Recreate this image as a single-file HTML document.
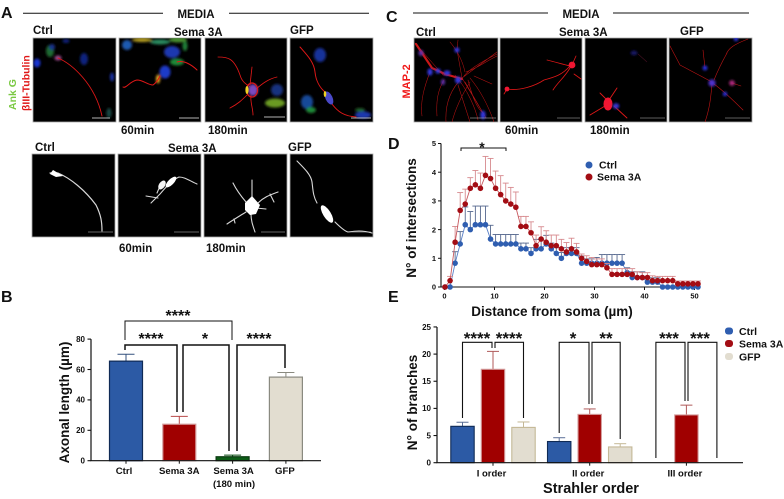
<!DOCTYPE html>
<html lang="en">
<head>
<meta charset="utf-8">
<title>Sema 3A neuron figure</title>
<style>
html,body{margin:0;padding:0;background:#fff;width:784px;height:499px;overflow:hidden}
svg{display:block;filter:blur(.25px)}
text{font-family:"Liberation Sans",sans-serif;font-weight:bold;fill:#111}
.red{fill:none;stroke:#e01818;stroke-linecap:round;stroke-linejoin:round}
.wht{fill:none;stroke:#d8d8d8;stroke-linecap:round;stroke-linejoin:round}
.frame{fill:#000;stroke:#aaa;stroke-width:.8}
</style>
</head>
<body>
<svg id="fig" xmlns="http://www.w3.org/2000/svg" width="784" height="499" viewBox="0 0 784 499">
<defs>
<filter id="s" x="-40%" y="-40%" width="180%" height="180%"><feGaussianBlur stdDeviation="1.4"/></filter>
<filter id="t" x="-10%" y="-10%" width="120%" height="120%"><feGaussianBlur stdDeviation=".3"/></filter>
<clipPath id="a1"><rect x="33" y="38" width="83" height="84"/></clipPath>
<clipPath id="a2"><rect x="119" y="38" width="82" height="84"/></clipPath>
<clipPath id="a3"><rect x="205" y="38" width="82" height="84"/></clipPath>
<clipPath id="a4"><rect x="290" y="38" width="83" height="84"/></clipPath>
<clipPath id="c1"><rect x="414" y="38" width="84" height="84"/></clipPath>
<clipPath id="c2"><rect x="500" y="38" width="82" height="84"/></clipPath>
<clipPath id="c3"><rect x="585" y="38" width="82" height="84"/></clipPath>
<clipPath id="c4"><rect x="669" y="38" width="83" height="84"/></clipPath>
</defs>

<!-- panel letters -->
<text x="1" y="18" font-size="16">A</text>
<text x="1" y="302" font-size="16">B</text>
<text x="386" y="22" font-size="16">C</text>
<text x="388" y="149" font-size="16">D</text>
<text x="388" y="302" font-size="16">E</text>

<!-- media headers -->
<g>
<line x1="23" y1="13.3" x2="163" y2="13.3" stroke="#111" stroke-width="1"/>
<line x1="229" y1="13.3" x2="369" y2="13.3" stroke="#111" stroke-width="1"/>
<text x="196" y="18" font-size="11.5" text-anchor="middle">MEDIA</text>
</g>
<g>
<line x1="413" y1="13" x2="548" y2="13" stroke="#111" stroke-width="1"/>
<line x1="613" y1="13" x2="749" y2="13" stroke="#111" stroke-width="1"/>
<text x="581" y="18" font-size="11.5" text-anchor="middle">MEDIA</text>
</g>

<!-- condition labels -->
<g font-size="11.5">
<text x="33" y="34">Ctrl</text><text x="174" y="36">Sema 3A</text><text x="290" y="34">GFP</text>
<text x="121" y="134">60min</text><text x="208" y="134">180min</text>
</g>
<g font-size="11.5">
<text x="35" y="151">Ctrl</text><text x="168" y="152">Sema 3A</text><text x="288" y="151">GFP</text>
<text x="119" y="252">60min</text><text x="206" y="252">180min</text>
</g>
<g font-size="11.5">
<text x="416" y="36">Ctrl</text><text x="559" y="36">Sema 3A</text><text x="680" y="35">GFP</text>
<text x="505" y="134">60min</text><text x="590" y="134">180min</text>
</g>
<text transform="translate(16 110) rotate(-90)" font-size="10.5" style="fill:#7ac943">Ank G</text>
<text transform="translate(29.5 111) rotate(-90)" font-size="10.5" style="fill:#e01818">βIII-Tubulin</text>
<text transform="translate(410 98.5) rotate(-90)" font-size="11" style="fill:#f01818">MAP-2</text>

<!-- panel A top micrographs -->
<g filter="url(#t)">
<rect class="frame" x="33" y="38" width="83" height="84"/>
<g clip-path="url(#a1)">
<g filter="url(#s)"><ellipse cx="37" cy="63" rx="3.5" ry="4.5" fill="#1535d0"/><ellipse cx="84" cy="59" rx="4" ry="6" fill="#10247e"/><ellipse cx="66" cy="41" rx="3.5" ry="2" fill="#10247e"/><ellipse cx="112" cy="77" rx="2" ry="4.5" fill="#1530a8"/><ellipse cx="50" cy="51" rx="4" ry="6" fill="#1f6a30"/><ellipse cx="52" cy="47" rx="3" ry="3" fill="#18308a"/><ellipse cx="109" cy="113" rx="2.5" ry="5" fill="#174a44"/><ellipse cx="58" cy="58" rx="3.5" ry="2.5" fill="#a04a90"/></g>
<path class="red" stroke-width=".9" d="M58 58C72 64 95 84 102 116"/>
<line x1="92" y1="118" x2="110" y2="118" stroke="#eee" stroke-width=".7"/>
</g></g>
<g filter="url(#t)">
<rect class="frame" x="119" y="38" width="82" height="84"/>
<g clip-path="url(#a2)">
<g filter="url(#s)"><ellipse cx="127" cy="45" rx="5" ry="5" fill="#1a5ab0"/><ellipse cx="142" cy="40" rx="10" ry="2" fill="#b8a020"/><ellipse cx="160" cy="42" rx="10" ry="2.5" fill="#2a8a60"/><ellipse cx="178" cy="40" rx="9" ry="2.5" fill="#4a9030"/><ellipse cx="172" cy="52" rx="8" ry="6" fill="#1a38b0"/><ellipse cx="177" cy="62" rx="7" ry="3.5" fill="#1f8a38"/><ellipse cx="185" cy="46" rx="2.5" ry="5" fill="#1f8038"/><ellipse cx="165" cy="72" rx="5.5" ry="6.5" fill="#1a3ac8"/><ellipse cx="158" cy="79" rx="2" ry="4.5" fill="#f0b020"/></g>
<path class="red" stroke-width="1" d="M123 87C126 89 130 81 137 80C143 80 148 85 153 85C156 83 158 80 160 76M177 62C184 60 192 65 197 70"/>
<line x1="179" y1="118" x2="199" y2="118" stroke="#eee" stroke-width=".7"/>
</g></g>
<g filter="url(#t)">
<rect class="frame" x="205" y="38" width="82" height="84"/>
<g clip-path="url(#a3)">
<path class="red" stroke-width=".85" d="M218 57C228 57 234 58 240 75C242 82 246 84 250 87M252 67L250 85M277 77C268 79 262 84 256 89M230 108C238 104 242 100 248 94M253 115C253 108 250 102 251 95"/>
<g filter="url(#s)"><ellipse cx="277" cy="90" rx="6" ry="6" fill="#15307e"/><ellipse cx="275" cy="103" rx="10" ry="4.5" fill="#6a9a20"/><ellipse cx="253" cy="90" rx="5" ry="6" fill="#7a48c0"/></g>
<ellipse cx="252" cy="90" rx="5.5" ry="7" fill="none" stroke="#e01818" stroke-width="1.2"/>
<ellipse cx="247" cy="90" rx="1.6" ry="4" fill="#f0d020"/>
<line x1="264" y1="117" x2="285" y2="117" stroke="#eee" stroke-width=".7"/>
</g></g>
<g filter="url(#t)">
<rect class="frame" x="290" y="38" width="83" height="84"/>
<g clip-path="url(#a4)">
<g filter="url(#s)"><ellipse cx="320" cy="55" rx="6" ry="7" fill="#15309a"/><ellipse cx="307" cy="102" rx="6" ry="7" fill="#154a98"/><ellipse cx="311" cy="110" rx="5" ry="3" fill="#1c8a38"/><ellipse cx="363" cy="115" rx="8" ry="3.5" fill="#1a38b0"/><ellipse cx="360" cy="110" rx="5" ry="1.8" fill="#236a2a"/></g>
<path class="red" stroke-width="1" d="M300 47C307 55 314 62 315 72C316 82 320 88 326 93M332 104C338 112 344 116 356 117"/>
<ellipse cx="329" cy="98" rx="3.5" ry="7" transform="rotate(-25 329 98)" fill="#4848c8"/>
<ellipse cx="325" cy="94" rx="1.3" ry="3" fill="#f0d020"/>
<line x1="351" y1="118" x2="371" y2="118" stroke="#eee" stroke-width=".7"/>
</g></g>

<!-- panel A skeletons -->
<g filter="url(#t)">
<rect class="frame" x="32" y="154" width="83" height="83"/>
<path class="wht" stroke-width="1.2" d="M50 173L58 173C70 178 85 190 96 205C101 215 102 222 102 231"/>
<path d="M53 170L63 176L56 177L50 174Z" fill="#fff"/>
<line x1="88" y1="232" x2="113" y2="232" stroke="#ccc" stroke-width=".6"/>
</g>
<g filter="url(#t)">
<rect class="frame" x="118" y="154" width="83" height="83"/>
<path class="wht" stroke-width="1.1" d="M197 184C190 181 185 177 179 177C172 180 166 187 160 194L151 203M146 196L158 198M157 193L160 186"/>
<ellipse cx="171" cy="182" rx="2.8" ry="7" transform="rotate(45 171 182)" fill="#fff"/>
<ellipse cx="162" cy="185" rx="3" ry="5" transform="rotate(35 162 185)" fill="#f4f4f4"/>
<line x1="174" y1="232" x2="199" y2="232" stroke="#ccc" stroke-width=".6"/>
</g>
<g filter="url(#t)">
<rect class="frame" x="204" y="154" width="83" height="83"/>
<path class="wht" stroke-width="1.1" d="M233 183C236 189 240 195 246 202M252 180L252 198M278 192C270 195 264 197 258 203M270 194L274 202M266 209L256 208M227 224C233 220 238 217 246 212M234 219L235 223M255 232C253 226 251 221 251 214"/>
<path d="M252 196L260 205L256 214L250 215L245 210L245 203Z" fill="#fff"/>
<line x1="261" y1="232" x2="285" y2="232" stroke="#ccc" stroke-width=".6"/>
</g>
<g filter="url(#t)">
<rect class="frame" x="290" y="154" width="83" height="83"/>
<path class="wht" stroke-width="1.1" d="M297 161C305 169 311 175 312 182C313 190 313 196 317 203M335 222C339 226 344 231 348 232C355 231 362 230 372 233"/>
<ellipse cx="327" cy="214" rx="3.8" ry="10" transform="rotate(-32 327 214)" fill="#fff"/>
<line x1="349" y1="232" x2="371" y2="232" stroke="#ccc" stroke-width=".6"/>
</g>

<!-- panel C micrographs -->
<g filter="url(#t)">
<rect class="frame" x="414" y="38" width="84" height="84"/>
<g clip-path="url(#c1)">
<path class="red" stroke-width=".55" opacity=".8" d="M415 43L443 75L462 78L497 52M458 40L457 50L462 78L483 113M462 78C450 90 445 105 446 122M455 75C468 90 476 110 478 120M464 76C470 68 485 60 497 54M430 72C425 85 420 100 422 116M470 82C462 95 455 110 452 122M470 78C480 90 488 105 494 122M465 82L486 118M450 42C455 48 462 58 465 72M466 72C478 68 488 60 497 56M458 85L470 122M444 80C438 90 436 100 437 116M468 80C472 95 476 108 484 114M474 76L492 84"/>
<path class="red" stroke-width="2.2" opacity=".9" d="M416 44L432 68L445 74L462 79"/>
<g filter="url(#s)"><ellipse cx="430" cy="72" rx="2.6" ry="3.6" fill="#3038e0"/><ellipse cx="421" cy="53" rx="2.5" ry="3" fill="#6030b0"/><ellipse cx="438" cy="71" rx="2.6" ry="2.6" fill="#3038e0"/><ellipse cx="447" cy="73" rx="3.5" ry="2.6" fill="#3038e0"/><ellipse cx="458" cy="80" rx="3" ry="3.6" fill="#3038e0"/><ellipse cx="457" cy="50" rx="2.6" ry="2.6" fill="#3038e0"/><ellipse cx="483" cy="115" rx="2.6" ry="4.5" fill="#3038e0"/><ellipse cx="443" cy="82" rx="2" ry="3" fill="#6030b0"/></g>
<line x1="470" y1="118" x2="496" y2="118" stroke="#ccc" stroke-width=".5"/>
</g></g>
<g filter="url(#t)">
<rect class="frame" x="500" y="38" width="82" height="84"/>
<g clip-path="url(#c2)">
<path class="red" stroke-width=".8" d="M507 89C520 91 535 86 544 80C555 77 562 75 570 66M547 60C555 62 562 64 570 66M553 90C558 82 564 78 570 68M576 56L572 65M574 74L581 79M507 89L504 94"/>
<circle cx="572" cy="65" r="3.4" fill="#f01830"/><circle cx="507" cy="89" r="2.4" fill="#f01830"/>
<line x1="557" y1="118" x2="580" y2="118" stroke="#bbb" stroke-width=".5"/>
</g></g>
<g filter="url(#t)">
<rect class="frame" x="585" y="38" width="82" height="84"/>
<g clip-path="url(#c3)">
<path class="red" stroke-width=".9" d="M600 93L608 101M617 88L609 100M590 115L605 106M627 118L614 106"/>
<ellipse cx="608" cy="104" rx="4.5" ry="6.5" fill="#f01830"/><ellipse cx="616" cy="106" rx="3.2" ry="2.8" fill="#3838d8" filter="url(#s)"/>
<ellipse cx="634" cy="53" rx="3.5" ry="2.2" fill="#14146a" filter="url(#s)"/>
<path d="M638 54L647 62" stroke="#401020" stroke-width=".7" fill="none"/>
<line x1="640" y1="118" x2="665" y2="118" stroke="#bbb" stroke-width=".5"/>
</g></g>
<g filter="url(#t)">
<rect class="frame" x="669" y="38" width="83" height="84"/>
<g clip-path="url(#c4)">
<path class="red" stroke-width=".6" opacity=".85" d="M670 46L680 65L712 82M727 53C722 62 718 70 714 80M748 39C735 44 728 48 726 55M705 122C710 108 711 95 712 84M743 110C735 102 725 92 714 84M705 68L703 50M732 83L741 86"/>
<g filter="url(#s)"><circle cx="705" cy="68" r="2.4" fill="#2a30e8"/><circle cx="712" cy="83" r="3.6" fill="#5030d0"/><circle cx="725" cy="94" r="2.2" fill="#2a30e8"/><circle cx="732" cy="83" r="2.8" fill="#b02a80"/><circle cx="736" cy="39" r="2.2" fill="#2a30e8"/></g>
<line x1="725" y1="118" x2="750" y2="118" stroke="#bbb" stroke-width=".5"/>
</g></g>

<!-- chart titles -->
<text transform="translate(69 402.5) rotate(-90)" font-size="13.5" text-anchor="middle">Axonal length (µm)</text>
<text transform="translate(416 218) rotate(-90)" font-size="13.5" text-anchor="middle">N° of intersections</text>
<text x="552" y="316" font-size="13.5" text-anchor="middle">Distance from soma (µm)</text>
<text transform="translate(417 402.5) rotate(-90)" font-size="13.5" text-anchor="middle">N° of branches</text>
<text x="591" y="493" font-size="14.5" text-anchor="middle">Strahler order</text>
<text x="234" y="487" font-size="9.6" text-anchor="middle">(180 min)</text>

<!-- legends -->
<g font-size="10.5">
<circle cx="589" cy="165" r="3.5" fill="#2f5eb0"/><text x="599" y="168.5">Ctrl</text>
<circle cx="589" cy="177" r="3.5" fill="#a30d14"/><text x="597" y="180.5">Sema 3A</text>
</g>
<g font-size="10.5">
<rect x="725" y="327.5" width="8" height="7" rx="3" fill="#2f5eb0"/><text x="739" y="335">Ctrl</text>
<rect x="725" y="340" width="8" height="7" rx="3" fill="#a30d14"/><text x="739" y="347.5">Sema 3A</text>
<rect x="725" y="353" width="8" height="7" rx="3" fill="#e2ddd0"/><text x="739" y="360.5">GFP</text>
</g>
</svg>

<script>
// Panel B data
const axonCategories = ['Ctrl', 'Sema 3A', 'Sema 3A', 'GFP'];
const axonLength = [65.5, 24, 2.6, 55];
const axonError = [4.5, 5.2, 1.1, 3];
const axonTicks = [0, 20, 40, 60, 80];

// Panel D data
const distanceTicks = [0, 10, 20, 30, 40, 50];
const intersectionTicks = [0, 1, 2, 3, 4, 5];
const ctrlIntersections = [0,0,.83,1.5,2.17,2,2.17,2.17,2.17,1.67,1.5,1.5,1.5,1.5,1.5,1.33,1.33,1.17,1.33,1.33,1.5,1.33,1.17,1,1.17,1.17,1.17,.83,.83,.83,.83,.83,.83,.83,.83,.83,.5,.33,.33,.33,.17,.17,.17,0,0,0,0,0,0,0,0];
const ctrlIntersectionsErr = [0,0,.4,.43,.62,.63,.65,.65,.65,.48,.33,.33,.33,.33,.33,.2,.2,.2,.33,.33,.3,.2,.2,.2,.2,.2,.2,.25,.15,.15,.2,.3,.3,.3,.3,.3,.17,.2,.2,.2,.15,.15,.15,0,0,0,0,0,0,0,0];
const semaIntersections = [0,.22,1.56,2.67,2.89,3.44,3.56,3.44,3.89,3.78,3.44,3.22,3,2.89,2.78,2.11,2.11,1.89,1.44,1.67,1.56,1.44,1.44,1.33,1.22,1.33,1.22,1,.89,.78,.78,.78,.67,.44,.44,.44,.44,.44,.33,.33,.33,.22,.22,.22,.22,.22,.11,.11,.11,.11,.11];
const semaIntersectionsErr = [0,.15,.55,.62,.52,.37,.5,.53,.66,.7,.6,.66,.62,.58,.53,.35,.35,.38,.37,.43,.4,.37,.37,.33,.33,.37,.3,.15,.2,.25,.2,.2,.15,.2,.2,.2,.2,.2,.2,.17,.17,.17,.15,.15,.15,.15,.1,.1,.1,.1,.1];

// Panel E data
const strahlerOrders = ['I order', 'II order', 'III order'];
const ctrlBranches = [6.7, 3.9, null];
const ctrlBranchesErr = [.75, .7, null];
const semaBranches = [17.2, 8.9, 8.8];
const semaBranchesErr = [3.3, 1, 1.8];
const gfpBranches = [6.5, 2.9, null];
const gfpBranchesErr = [1, .6, null];
const branchTicks = [0, 5, 10, 15, 20, 25];

const svg = document.getElementById('fig');
const NS = 'http://www.w3.org/2000/svg';
function mk(tag, attrs, parent) {
  const e = document.createElementNS(NS, tag);
  for (const k in attrs) e.setAttribute(k, attrs[k]);
  (parent || svg).appendChild(e);
  return e;
}
function group(parent) { return mk('g', {}, parent); }
function lineEl(g, x1, y1, x2, y2, color, w) {
  return mk('line', {x1: x1, y1: y1, x2: x2, y2: y2, stroke: color, 'stroke-width': w}, g);
}
function label(g, x, y, str, size, anchor) {
  const t = mk('text', {x: x, y: y, 'font-size': size, 'text-anchor': anchor}, g);
  t.textContent = str;
  return t;
}
function pathEl(g, d, w) {
  return mk('path', {d: d, fill: 'none', stroke: '#111', 'stroke-width': w}, g);
}

/* ---------- Panel B ---------- */
const yB = v => 460.7 - v * 1.52;
const xB = i => 126 + i * 53.3;
const gB = group();


const fillsB = ['#2c5aa5', '#a00000', '#0d5c16', '#e2ddd0'];
const strokesB = ['#0f2a55', '#d49c9c', '#0a3a10', '#8a8a80'];
const errB = ['#33507f', '#b84a4a', '#0a4a10', '#8a8a80'];
axonLength.forEach((v, i) => {
  const cx = xB(i);
  const tick = lineEl(gB, cx, yB(v), cx, yB(v + axonError[i]), errB[i], 1);
  
  const cap = lineEl(gB, cx - 8.5, yB(v + axonError[i]), cx + 8.5, yB(v + axonError[i]), errB[i], 1);
  
  const r = mk('rect', {x: cx - 16.5, y: yB(v), width: 33, height: yB(0) - yB(v), fill: fillsB[i], stroke: strokesB[i], 'stroke-width': 1.2}, gB);
  
  
  const t = label(gB, cx - (i === 0 ? 2 : 0) + (i === 2 ? 1 : 0) - (i === 3 ? 1 : 0), 474, axonCategories[i], 9.6, 'middle');
  
  const xt = lineEl(gB, cx, yB(0), cx, yB(0) + 3, '#111', 1);
  
});
const axB = pathEl(gB, 'M91 ' + yB(80) + 'V' + yB(0) + 'H321', 1.2);

axonTicks.forEach(v => {
  const tk = lineEl(gB, 87.5, yB(v), 91, yB(v), '#111', 1.1);
  
  const t = label(gB, 85, yB(v) + 2.8, String(v), 8, 'end');
  
});
const bktB = group(gB);

pathEl(bktB, 'M125 340V321H232V340', 1);
pathEl(bktB, 'M125 350V345H177V412', 1.5);
pathEl(bktB, 'M183 412V345H229V451', 1.5);
pathEl(bktB, 'M237 451V345H285V368', 1.5);
[[178, 321, '****'], [151, 344, '****'], [205, 344, '*'], [259, 344, '****']].forEach(s => {
  const t = label(bktB, s[0], s[1], s[2], 16, 'middle');
  
});

/* ---------- Panel D ---------- */
const yD = v => 287 - v * 28.7;
const xD = v => 444.5 + v * 5.0;
const ptX = i => 445 + i * 5.06;
const gD = group();


const axD = pathEl(gD, 'M441 ' + yD(5) + 'V287H700', 1.1);

distanceTicks.forEach(v => {
  const tk = lineEl(gD, xD(v), 287, xD(v), 290, '#111', 1);
  
  const t = label(gD, xD(v), 298.5, String(v), 7.5, 'middle');
  
});
intersectionTicks.forEach(v => {
  const tk = lineEl(gD, 438, yD(v), 441, yD(v), '#111', 1);
  
  const t = label(gD, 436, yD(v) + 2.7, String(v), 7.5, 'end');
  
});
function drawSeries(values, errs, lineCol, errCol, dotCol, name) {
  const g = group(gD);
  
  values.forEach((v, i) => {
    if (errs[i] > 0) {
      const x = ptX(i), top = yD(v + errs[i]);
      const s = lineEl(g, x, yD(v), x, top, errCol, .9);
      
      const c = lineEl(g, x - 3, top, x + 3, top, errCol, .9);
      
    }
  });
  const pl = mk('polyline', {points: values.map((v, i) => ptX(i) + ',' + yD(v)).join(' '), fill: 'none', stroke: lineCol, 'stroke-width': .9}, g);
  
  values.forEach((v, i) => {
    const c = mk('circle', {cx: ptX(i), cy: yD(v), r: 2.8, fill: dotCol}, g);
    
  });
}
drawSeries(ctrlIntersections, ctrlIntersectionsErr, '#5a80c8', '#56688e', '#2f5eb0', 'ctrl-intersections-series');
drawSeries(semaIntersections, semaIntersectionsErr, '#c85a60', '#d78a8e', '#a30d14', 'sema-intersections-series');
const bktD = pathEl(gD, 'M461 151V148H506V151', 1);

const starD = label(gD, 482, 152, '*', 14, 'middle');


/* ---------- Panel E ---------- */
const yE = v => 462.7 - v * 5.43;
const xE = (g, s) => 493 + g * 96.7 + (s - 1) * 30.5;
const gE = group();


const seriesE = [
  {vals: ctrlBranches, errs: ctrlBranchesErr, fill: '#2c5aa5', stroke: '#0f2a55', err: '#5a6e96'},
  {vals: semaBranches, errs: semaBranchesErr, fill: '#a00000', stroke: '#d49c9c', err: '#b05a5a'},
  {vals: gfpBranches, errs: gfpBranchesErr, fill: '#e2ddd0', stroke: '#c4b896', err: '#c4b896'}
];
seriesE.forEach((s, si) => {
  s.vals.forEach((v, gi) => {
    if (v === null) return;
    const cx = xE(gi, si);
    const top = yE(v + s.errs[gi]);
    const st = lineEl(gE, cx, yE(v), cx, top, s.err, 1);
    
    const cp = lineEl(gE, cx - 6, top, cx + 6, top, s.err, 1);
    
    const r = mk('rect', {x: cx - 11.7, y: yE(v), width: 23.4, height: yE(0) - yE(v), fill: s.fill, stroke: s.stroke, 'stroke-width': 1.1}, gE);
    
    
  });
});
const axE = pathEl(gE, 'M437 ' + yE(25) + 'V' + yE(0) + 'H743', 1.2);

branchTicks.forEach(v => {
  const tk = lineEl(gE, 433.5, yE(v), 437, yE(v), '#111', 1.1);
  
  const t = label(gE, 431, yE(v) + 2.8, String(v), 8, 'end');
  
});
strahlerOrders.forEach((c, i) => {
  const x = xE(i, 1);
  const tk = lineEl(gE, x, yE(0), x, yE(0) + 3, '#111', 1);
  
  const t = label(gE, x - 1.5, 476.5, c, 9.5, 'middle');
  
});
const bktE = group(gE);

const topE = 342.3;
pathEl(bktE, 'M' + xE(0,0) + ' 418V' + topE + 'H492V348', 1.1);
pathEl(bktE, 'M495 348V' + topE + 'H' + xE(0,2) + 'V418', 1.1);
pathEl(bktE, 'M' + xE(1,0) + ' 433V' + topE + 'H589V404', 1.1);
pathEl(bktE, 'M592 404V' + topE + 'H' + xE(1,2) + 'V439', 1.1);
pathEl(bktE, 'M' + xE(2,0) + ' 458V' + topE + 'H685V401', 1.1);
pathEl(bktE, 'M688 401V' + topE + 'H' + xE(2,2) + 'V458', 1.1);
[[477, '****'], [509, '****'], [573, '*'], [606, '**'], [669, '***'], [700, '***']].forEach(s => {
  const t = label(bktE, s[0], 344, s[1], 17, 'middle');
  
});
</script>
</body>
</html>
